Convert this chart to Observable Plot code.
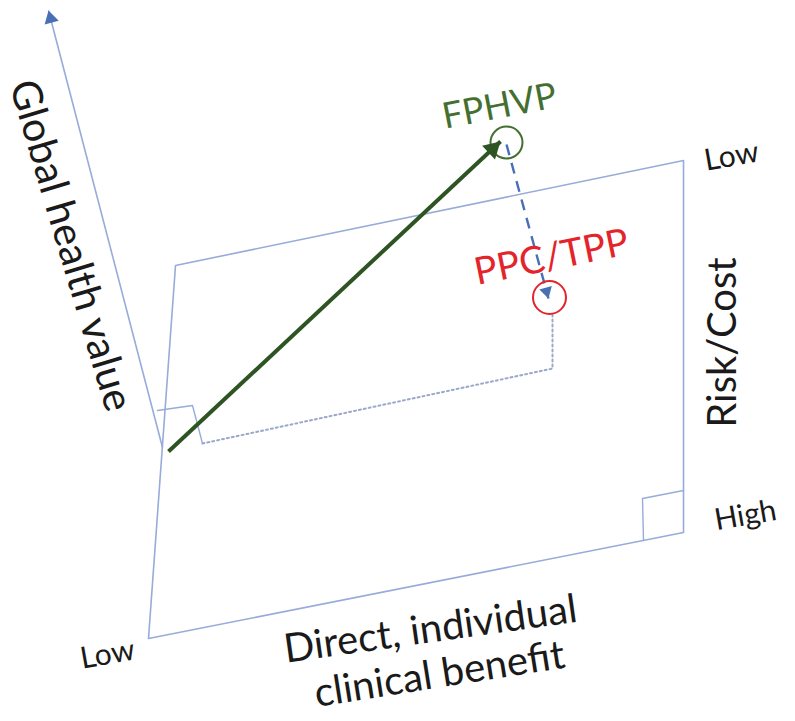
<!DOCTYPE html>
<html>
<head>
<meta charset="utf-8">
<script src="https://cdn.jsdelivr.net/npm/d3@7"></script>
<script src="https://cdn.jsdelivr.net/npm/@observablehq/plot@0.6"></script>
<style>
  html, body { margin: 0; padding: 0; background: #fff; }
  #chart { width: 795px; height: 721px; }
</style>
</head>
<body>
<div id="chart"></div>
<script>
// Diagram coordinates
const planeX = [148, 175, 683, 683, 148];
const planeY = [638, 265, 160, 532, 638];

const valueAxis = { x1: 162, y1: 447, x2: 48, y2: 10 };        // Global health value axis (arrow up)
const originMarkX = [157, 192, 202];                            // right-angle marker at origin
const originMarkY = [410, 405, 443];
const cornerMarkX = [683, 642, 643];                            // right-angle marker at bottom-right
const cornerMarkY = [490, 498, 540];

const greenArrow = { x1: 168, y1: 451, x2: 500, y2: 141 };      // to FPHVP
const blueArrow  = { x1: 506, y1: 144, x2: 548, y2: 298 };      // FPHVP -> PPC/TPP
const dottedX = [552, 552, 202];
const dottedY = [314, 368, 443];

const targets = [
  { name: "FPHVP",   x: 506, y: 142, color: "#456f30" },
  { name: "PPC/TPP", x: 549, y: 297, color: "#e3242b" }
];

const labels = [
  { text: "FPHVP",               x: 499, y: 106, rotate: -11,  size: 36, color: "#456f30" },
  { text: "PPC/TPP",             x: 551, y: 257, rotate: -11.5, size: 38, color: "#e3242b" },
  { text: "Global health value", x: 70,  y: 245, rotate: 73.5, size: 41, color: "#1a1a1a" },
  { text: "Risk/Cost",           x: 723, y: 342, rotate: -90,  size: 40, color: "#1a1a1a" },
  { text: "Low",                 x: 731, y: 156, rotate: -10,  size: 30, color: "#1a1a1a" },
  { text: "High",                x: 745, y: 515, rotate: -10,  size: 30, color: "#1a1a1a" },
  { text: "Low",                 x: 107, y: 654, rotate: -10,  size: 30, color: "#1a1a1a" },
  { text: "Direct, individual",  x: 430, y: 629, rotate: -8,   size: 40, color: "#1a1a1a" },
  { text: "clinical benefit",    x: 439, y: 674, rotate: -9,   size: 40, color: "#1a1a1a" }
];

// arrow head placement: the triangle symbol's centroid sits behind the tip, rotated along the segment
function head(seg, r, color) {
  const dx = seg.x2 - seg.x1, dy = seg.y2 - seg.y1;
  const L = Math.hypot(dx, dy);
  const ux = dx / L, uy = dy / L;
  const size = Math.PI * r * r;
  const back = 2 * Math.sqrt(size / (3 * Math.sqrt(3)));
  const rot = Math.atan2(dx, -dy) * 180 / Math.PI; // clockwise from "up"
  return { x: seg.x2 - ux * back, y: seg.y2 - uy * back, rotate: rot, color, r };
}
const heads = [
  head(valueAxis, 5.4, "#4a6fb5"),
  head(greenArrow, 7, "#2d5422"),
  head(blueArrow, 4.8, "#4a6fb5")
];

const lineColor = "#97acd9";

const chart = Plot.plot({
  width: 795,
  height: 721,
  margin: 0,
  x: { domain: [0, 795], range: [0, 795], axis: null },
  y: { domain: [0, 721], range: [0, 721], axis: null },
  style: { background: "#fff", fontFamily: "Lato, 'Open Sans', sans-serif", overflow: "visible" },
  marks: [
    Plot.line(planeX.map((x, i) => ({ x, y: planeY[i] })), { x: "x", y: "y", stroke: lineColor, strokeWidth: 1.6 }),
    Plot.link([valueAxis], { x1: "x1", y1: "y1", x2: "x2", y2: "y2", stroke: lineColor, strokeWidth: 1.6 }),
    Plot.line(originMarkX.map((x, i) => ({ x, y: originMarkY[i] })), { x: "x", y: "y", stroke: lineColor, strokeWidth: 1.4 }),
    Plot.line(cornerMarkX.map((x, i) => ({ x, y: cornerMarkY[i] })), { x: "x", y: "y", stroke: lineColor, strokeWidth: 1.4 }),
    Plot.line(dottedX.map((x, i) => ({ x, y: dottedY[i] })), { x: "x", y: "y", stroke: "#9aa9c9", strokeWidth: 2, strokeDasharray: "2,3" }),
    Plot.link([blueArrow], { x1: "x1", y1: "y1", x2: "x2", y2: "y2", stroke: "#4a6fb5", strokeWidth: 2.4, strokeDasharray: "11,8" }),
    Plot.link([greenArrow], { x1: "x1", y1: "y1", x2: "x2", y2: "y2", stroke: "#2d5422", strokeWidth: 4 }),
    Plot.dot([targets[0]], { x: "x", y: "y", r: 16, stroke: targets[0].color, strokeWidth: 2, fill: "none" }),
    Plot.dot([targets[1]], { x: "x", y: "y", r: 16.5, stroke: targets[1].color, strokeWidth: 2, fill: "none" }),
    ...heads.map(h => Plot.dot([h], { x: "x", y: "y", r: h.r, symbol: "triangle", rotate: "rotate", fill: h.color, stroke: "none" })),
    ...labels.map(d => Plot.text([d], { x: "x", y: "y", text: "text", rotate: "rotate", fontSize: d.size, fill: d.color, textAnchor: "middle", lineAnchor: "middle" }))
  ]
});
document.getElementById("chart").appendChild(chart);
</script>
</body>
</html>
